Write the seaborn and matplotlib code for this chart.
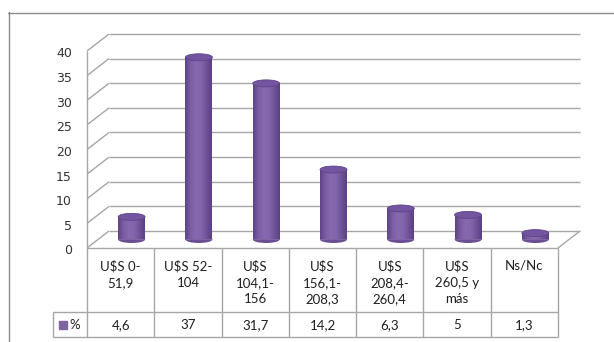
import numpy as np
import matplotlib
matplotlib.use("Agg")
import matplotlib.pyplot as plt
import seaborn as sns
from matplotlib.patches import Ellipse
from matplotlib.transforms import Affine2D, IdentityTransform
from matplotlib.colors import LinearSegmentedColormap

# ---- data ----
categories = ["U$S 0-\n51,9", "U$S 52-\n104", "U$S\n104,1-\n156", "U$S\n156,1-\n208,3",
              "U$S\n208,4-\n260,4", "U$S\n260,5 y\nmás", "Ns/Nc"]
values = [4.6, 37, 31.7, 14.2, 6.3, 5, 1.3]
value_labels = ["4,6", "37", "31,7", "14,2", "6,3", "5", "1,3"]
series_name = "%"
y_ticks = [0, 5, 10, 15, 20, 25, 30, 35, 40]

sns.set_theme(style="white")
plt.rcParams["font.family"] = ["Lato", "DejaVu Sans"]

W, H = 614, 342
fig = plt.figure(figsize=(W / 100, H / 100), dpi=100)
fig.patch.set_facecolor("white")

# depth of the 3-D box in pixels (front plane -> back plane)
DX, DY = 22, 17
# the axes is the middle plane of the box (where the cylinders stand)
left_px, right_px = 87 + DX / 2, 558 + DX / 2
zero_px, top_px = 248 - DY / 2, 51 - DY / 2
ax = fig.add_axes([left_px / W, (H - zero_px) / H,
                   (right_px - left_px) / W, (zero_px - top_px) / H])

front = ax.transData + Affine2D().translate(-DX / 2, -DY / 2)
back = ax.transData + Affine2D().translate(DX / 2, DY / 2)
ident = IdentityTransform()

grid_c = "#a6a6a6"
lw = 1.0
x0, x1 = -0.5, len(categories) - 0.5

# ---- cylinders ----
body = "#8064a2"
sns.barplot(x=categories, y=values, color=body, width=0.4, saturation=1,
            ax=ax, zorder=3, edgecolor="none")
ax.set_xlim(x0, x1)
ax.set_ylim(0, 40)
ax.axis("off")


def seg(p, q, **kw):
    ax.plot([p[0], q[0]], [p[1], q[1]], transform=ident, clip_on=False,
            color=kw.pop("color", grid_c), lw=kw.pop("lw", lw),
            solid_capstyle="butt", **kw)


# back wall gridlines and side wall
for v in y_ticks:
    seg(back.transform((x0, v)), back.transform((x1, v)), zorder=1)
    seg(front.transform((x0, v)), back.transform((x0, v)), zorder=1)
seg(front.transform((x0, 0)), front.transform((x0, 40)), zorder=1)
# floor outline
seg(front.transform((x1, 0)), back.transform((x1, 0)), zorder=1)
seg(front.transform((x0, 0)), front.transform((x1, 0)), zorder=1)

# y-axis labels on the front edge of the side wall
for v in y_ticks:
    px, py = front.transform((x0, v))
    ax.text(px - 15, py - 3, str(v), transform=ident, ha="right", va="center",
            fontsize=9, color="#333333", family=["DejaVu Sans"])

px_per_unit = (zero_px - top_px) / 40
cap_h = 7 / px_per_unit
shade = LinearSegmentedColormap.from_list(
    "cyl", ["#5e4487", "#7a5da3", "#8669b0", "#8265ab", "#6f5399", "#5a4182"])
grad = np.linspace(0, 1, 64).reshape(1, -1)
for bar, v in zip(ax.patches, values):
    bx, bw = bar.get_x(), bar.get_width()
    cx = bx + bw / 2
    # bottom rim
    ax.add_patch(Ellipse((cx, 0), bw, cap_h, facecolor="#6a4f93",
                         edgecolor="none", zorder=2.5, clip_on=False))
    im = ax.imshow(grad, cmap=shade, aspect="auto", extent=(bx, bx + bw, 0, v),
                   zorder=3.5, interpolation="bilinear")
    im.set_clip_path(bar)
    # top cap
    ax.add_patch(Ellipse((cx, v), bw, cap_h, facecolor="#7254a0",
                         edgecolor="#5e4487", lw=0.6, zorder=4, clip_on=False))
ax.set_xlim(x0, x1)
ax.set_ylim(0, 40)

# ---- data table ----
def ypx(y_top):
    return H - y_top

row_top, row_mid, row_bot = 248, 312, 337
label_left = 53
for k in range(len(categories) + 1):
    fx = front.transform((x0 + k, 0))[0]
    seg((fx, ypx(row_top)), (fx, ypx(row_bot)), zorder=1)
fx_r = front.transform((x1, 0))[0]
seg((label_left, ypx(row_mid)), (fx_r, ypx(row_mid)), zorder=1)
seg((label_left, ypx(row_bot)), (fx_r, ypx(row_bot)), zorder=1)
seg((label_left, ypx(row_mid)), (label_left, ypx(row_bot)), zorder=1)

txt_c = "#1f1f1f"
for i, (cat, lab) in enumerate(zip(categories, value_labels)):
    fx = front.transform((i, 0))[0]
    ax.text(fx, ypx(260), cat, transform=ident, ha="center", va="top",
            fontsize=9.5, color=txt_c, linespacing=1.42)
    ax.text(fx, ypx(325), lab, transform=ident, ha="center", va="center",
            fontsize=9.5, color=txt_c)

# legend key in the row header
ax.plot([63], [ypx(325)], marker="s", ms=5.5, color=body, transform=ident,
        clip_on=False, ls="none")
ax.text(69, ypx(325), series_name, transform=ident, ha="left", va="center",
        fontsize=9.5, color=txt_c)

# chart area border
frame_c = "#8c8c8c"
fig.add_artist(plt.Line2D([8.5, 8.5], [ypx(12), 0], transform=ident,
                          color=frame_c, lw=1))
fig.add_artist(plt.Line2D([8, W], [ypx(12.5), ypx(12.5)], transform=ident,
                          color=frame_c, lw=1))

fig.savefig("out.png", dpi=100)
